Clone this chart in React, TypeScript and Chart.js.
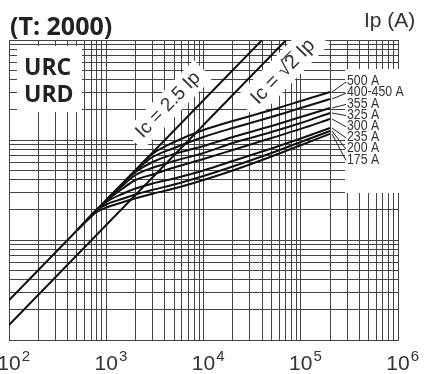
import React, { useEffect, useRef } from "react";
import { Chart, registerables } from "chart.js";

Chart.register(...registerables);

// ---- Axis data ----
const X_MIN = 100;
const X_MAX = 1000000;
const Y_MIN = 100;
const Y_MAX = 100000;
const X_DECADES = [100, 1000, 10000, 100000, 1000000];
const X_EXPONENTS = ["2", "3", "4", "5", "6"];
const GRID_MULTIPLIERS = [1, 2, 3, 4, 5, 6, 7, 8, 9];

// ---- Reference lines ----
const LINE25_IP = [100, 40000];
const LINE25_IC = [250, 100000];
const LINESQ2_IP = [100, 70711];
const LINESQ2_IC = [141.4, 100000];

// ---- Fuse curves (Ip in A, Ic in A) ----
const C500_IP = [1000, 2000, 3000, 5000, 10000, 20000, 50000, 100000, 200000];
const C500_IC = [2500, 5000, 7300, 9550, 12590, 15490, 19950, 24550, 30200];

const C450_IP = [1000, 1500, 2000, 3000, 5000, 10000, 20000, 50000, 100000, 200000];
const C450_IC = [2500, 3750, 4898, 6761, 8318, 10715, 13183, 16982, 20893, 25704];

const C355_IP = [600, 1000, 1500, 2000, 3000, 5000, 10000, 20000, 50000, 100000, 200000];
const C355_IC = [1500, 2500, 3724, 4786, 6026, 7244, 8710, 10715, 13804, 16982, 20893];

const C325_IP = [600, 1000, 1500, 2000, 3000, 5000, 10000, 20000, 50000, 100000, 200000];
const C325_IC = [1500, 2480, 3548, 4467, 5272, 6166, 7413, 9333, 12023, 14791, 18621];

const C300_IP = [600, 1000, 1500, 2000, 3000, 5000, 10000, 20000, 50000, 100000, 200000];
const C300_IC = [1500, 2450, 3311, 3981, 4519, 5309, 6457, 7943, 10471, 12912, 16218];

const C235_IP = [500, 800, 1000, 1500, 2000, 3000, 5000, 10000, 20000, 50000, 100000, 200000];
const C235_IC = [1250, 2000, 2399, 2917, 3273, 3673, 4121, 4955, 6166, 8222, 10351, 13183];

const C200_IP = [500, 800, 1000, 1500, 2000, 3000, 5000, 10000, 20000, 50000, 100000, 200000];
const C200_IC = [1250, 1995, 2265, 2600, 2851, 3177, 3589, 4365, 5433, 7413, 9550, 12303];

const C175_IP = [500, 800, 1000, 1500, 2000, 3000, 5000, 10000, 20000, 50000, 100000, 200000];
const C175_IC = [1250, 1905, 2113, 2399, 2612, 2904, 3273, 3981, 4955, 6839, 8872, 11508];

const CURVE_LABELS = ["500 A", "400-450 A", "355 A", "325 A", "300 A", "235 A", "200 A", "175 A"];

const TITLE = "(T: 2000)";
const SERIES_NAMES = ["URC", "URD"];
const X_TITLE = "Ip (A)";
const LABEL_25 = "Ic = 2.5 Ip";

const INK = "#222";
const GRID = "#444";

function pts(xs: number[], ys: number[]) {
  return xs.map((x, i) => ({ x, y: ys[i] }));
}

const curves = [
  pts(C500_IP, C500_IC),
  pts(C450_IP, C450_IC),
  pts(C355_IP, C355_IC),
  pts(C325_IP, C325_IC),
  pts(C300_IP, C300_IC),
  pts(C235_IP, C235_IC),
  pts(C200_IP, C200_IC),
  pts(C175_IP, C175_IC),
];

function gridValues(min: number, max: number) {
  const out: { value: number }[] = [];
  for (let d = min; d < max; d *= 10) {
    for (const m of GRID_MULTIPLIERS) out.push({ value: d * m });
  }
  out.push({ value: max });
  return out;
}

function lineAngle(chart: any, ipA: number, icA: number, ipB: number, icB: number) {
  const { x, y } = chart.scales;
  const x1 = x.getPixelForValue(ipA), y1 = y.getPixelForValue(icA);
  const x2 = x.getPixelForValue(ipB), y2 = y.getPixelForValue(icB);
  return Math.atan2(y2 - y1, x2 - x1);
}

function rotatedLabelCenter(chart: any, ip: number, ic: number, ang: number, dist: number) {
  const { x, y } = chart.scales;
  const px = x.getPixelForValue(ip);
  const py = y.getPixelForValue(ic);
  const dx = Math.cos(ang), dy = Math.sin(ang);
  // positive dist -> upper-left side, negative -> lower-right side
  return { cx: px + dist * dy, cy: py - dist * dx };
}

const annotationPlugin = {
  id: "annotations",
  beforeDatasetsDraw(chart: any) {
    const { ctx, chartArea: ca } = chart;
    ctx.save();
    ctx.fillStyle = "#fff";
    // white panel behind URC / URD
    ctx.fillRect(ca.left + 8, ca.top + 6, 65, 66);
    // white panel behind curve labels
    ctx.fillRect(ca.left + 336, ca.top + 29, ca.right - ca.left - 334, 124);

    // rotated label panels
    const a25 = lineAngle(chart, LINE25_IP[0], LINE25_IC[0], LINE25_IP[1], LINE25_IC[1]);
    const p25 = rotatedLabelCenter(chart, 6300, 6300 * 2.5, a25, 22);
    ctx.save();
    ctx.translate(p25.cx, p25.cy);
    ctx.rotate(a25);
    ctx.fillRect(-50, -13, 100, 26);
    ctx.restore();

    const aS = lineAngle(chart, LINESQ2_IP[0], LINESQ2_IC[0], LINESQ2_IP[1], LINESQ2_IC[1]);
    const pS = rotatedLabelCenter(chart, 46800, 46800 * 1.4142, aS, -20);
    ctx.save();
    ctx.translate(pS.cx, pS.cy);
    ctx.rotate(aS);
    ctx.fillRect(-52, -16, 104, 30);
    ctx.restore();
    ctx.restore();
  },
  afterDatasetsDraw(chart: any) {
    const { ctx, chartArea: ca, scales } = chart;
    const xs = scales.x;
    const ys = scales.y;
    ctx.save();
    ctx.fillStyle = INK;
    ctx.strokeStyle = INK;

    // title
    ctx.font = "bold 25px 'Open Sans', 'Liberation Sans', sans-serif";
    ctx.textBaseline = "alphabetic";
    ctx.textAlign = "left";
    ctx.fillText(TITLE, ca.left + 1, ca.top - 5);

    // URC / URD
    ctx.font = "bold 23px 'Open Sans', 'Liberation Sans', sans-serif";
    ctx.fillText(SERIES_NAMES[0], ca.left + 15, ca.top + 35);
    ctx.fillText(SERIES_NAMES[1], ca.left + 15, ca.top + 62);

    // Ip (A)
    ctx.font = "21px 'Liberation Sans', sans-serif";
    ctx.fillStyle = "#333";
    ctx.fillText(X_TITLE, ca.right - 34, ca.top - 13);

    // x tick labels
    X_DECADES.forEach((v, i) => {
      const px = xs.getPixelForValue(v);
      ctx.font = "21px 'Liberation Sans', sans-serif";
      const w = ctx.measureText("10").width;
      ctx.fillText("10", px - w / 2, ca.bottom + 30);
      ctx.font = "15px 'Liberation Sans', sans-serif";
      ctx.fillText(X_EXPONENTS[i], px + w / 2 + 1, ca.bottom + 21);
    });

    // rotated labels
    ctx.fillStyle = "#333";
    const a25 = lineAngle(chart, LINE25_IP[0], LINE25_IC[0], LINE25_IP[1], LINE25_IC[1]);
    const p25 = rotatedLabelCenter(chart, 6300, 6300 * 2.5, a25, 22);
    ctx.save();
    ctx.translate(p25.cx, p25.cy);
    ctx.rotate(a25);
    ctx.font = "19px 'Liberation Sans', sans-serif";
    ctx.textAlign = "center";
    ctx.textBaseline = "middle";
    ctx.fillText(LABEL_25, 0, 0);
    ctx.restore();

    const aS = lineAngle(chart, LINESQ2_IP[0], LINESQ2_IC[0], LINESQ2_IP[1], LINESQ2_IC[1]);
    const pS = rotatedLabelCenter(chart, 46800, 46800 * 1.4142, aS, -20);
    ctx.save();
    ctx.translate(pS.cx, pS.cy);
    ctx.rotate(aS);
    ctx.font = "20px 'Liberation Sans', sans-serif";
    ctx.textBaseline = "middle";
    ctx.textAlign = "left";
    const partA = "Ic = ";
    const partR = "\u221A";
    const partB = "2";
    const partC = " Ip";
    const wA = ctx.measureText(partA).width;
    const wR = ctx.measureText(partR).width;
    const wB = ctx.measureText(partB).width;
    const wC = ctx.measureText(partC).width;
    const total = wA + wR + wB + wC;
    let cx = -total / 2;
    ctx.fillText(partA, cx, 0);
    cx += wA;
    ctx.fillText(partR, cx, 0);
    cx += wR;
    ctx.fillText(partB, cx, 0);
    ctx.lineWidth = 1.2;
    ctx.strokeStyle = "#333";
    ctx.beginPath();
    ctx.moveTo(cx - 1, -9);
    ctx.lineTo(cx + wB + 1, -9);
    ctx.stroke();
    cx += wB;
    ctx.fillText(partC, cx, 0);
    ctx.restore();

    // curve labels + leaders
    const labelX = ca.left + 338;
    chart.data.datasets.forEach((ds: any) => {
      if (ds.curveIndex === undefined) return;
      const k = ds.curveIndex;
      const last = ds.data[ds.data.length - 1];
      const ex = xs.getPixelForValue(last.x);
      const ey = ys.getPixelForValue(last.y);
      const ly = ca.top + 41 + k * 11.2;
      ctx.strokeStyle = INK;
      ctx.lineWidth = 1;
      ctx.beginPath();
      ctx.moveTo(ex + 2, ey);
      ctx.lineTo(labelX - 1, ly + 1);
      ctx.stroke();
      ctx.save();
      ctx.translate(labelX, ly);
      ctx.scale(0.82, 1);
      ctx.font = "15px 'Liberation Sans', sans-serif";
      ctx.textBaseline = "middle";
      ctx.textAlign = "left";
      ctx.fillStyle = "#333";
      ctx.fillText(CURVE_LABELS[k], 0, 0);
      ctx.restore();
    });
    ctx.restore();
  },
};

export default function App() {
  const canvasRef = useRef<HTMLCanvasElement | null>(null);

  useEffect(() => {
    const canvas = canvasRef.current;
    if (!canvas) return;
    const lineStyle = {
      borderColor: "#111",
      borderWidth: 2,
      pointRadius: 0,
      fill: false,
      cubicInterpolationMode: "monotone" as const,
    };
    const datasets: any[] = [
      { ...lineStyle, label: "Ic = 2.5 Ip", data: pts(LINE25_IP, LINE25_IC) },
      { ...lineStyle, label: "Ic = sqrt2 Ip", data: pts(LINESQ2_IP, LINESQ2_IC) },
      ...curves.map((c, k) => ({ ...lineStyle, label: CURVE_LABELS[k], data: c, curveIndex: k })),
    ];
    const chart = new Chart(canvas, {
      type: "line",
      data: { datasets },
      options: {
        animation: false,
        responsive: false,
        events: [],
        layout: { padding: { left: 9, right: 27, top: 40, bottom: 34 } },
        plugins: { legend: { display: false }, tooltip: { enabled: false } },
        scales: {
          x: {
            type: "logarithmic",
            min: X_MIN,
            max: X_MAX,
            ticks: { display: false },
            grid: { color: GRID, lineWidth: 1, drawTicks: false },
            border: { display: true, color: GRID, width: 1 },
            afterBuildTicks: (scale: any) => {
              scale.ticks = gridValues(X_MIN, X_MAX);
            },
            afterFit: (scale: any) => {
              scale.height = 0;
            },
          },
          y: {
            type: "logarithmic",
            min: Y_MIN,
            max: Y_MAX,
            ticks: { display: false },
            grid: { color: GRID, lineWidth: 1, drawTicks: false },
            border: { display: true, color: GRID, width: 1 },
            afterBuildTicks: (scale: any) => {
              scale.ticks = gridValues(Y_MIN, Y_MAX);
            },
            afterFit: (scale: any) => {
              scale.width = 0;
            },
          },
        },
      },
      plugins: [annotationPlugin],
    });
    return () => chart.destroy();
  }, []);

  return (
    <div style={{ position: "absolute", left: 0, top: 0, width: 425, height: 374, background: "#fff" }}>
      <canvas ref={canvasRef} width={425} height={374} style={{ display: "block" }} />
    </div>
  );
}
